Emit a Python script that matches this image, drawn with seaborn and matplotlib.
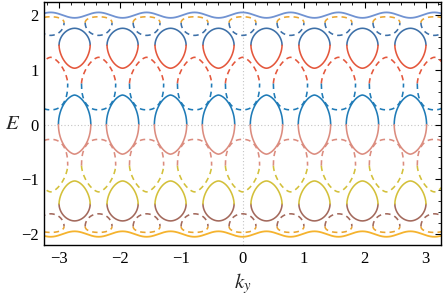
import numpy as np
import pandas as pd
import matplotlib
matplotlib.use("Agg")
import matplotlib.pyplot as plt
import seaborn as sns
from matplotlib.ticker import MultipleLocator

sns.set_theme(style="white")
plt.rcParams['font.family'] = ['Liberation Serif', 'DejaVu Serif']
plt.rcParams['mathtext.fontset'] = 'stix'

# ---- values ----
loop_centers = (2 * np.arange(-4, 4) + 1) * np.pi / 8     # solid loops
oval_centers = np.arange(-4, 5) * np.pi / 4                # dashed ovals
# solid upper loop: (E at widest, E top, E bottom, half width)
up_mid, up_top, up_bot, up_halfw = 1.45, 1.76, 1.03, 0.255
# solid inner loop (touches E = 0)
in_top, in_halfw = 0.54, 0.265
# dashed middle oval
mo_mid, mo_top, mo_bot, mo_halfw = 0.75, 1.23, 0.27, 0.28
# dashed top oval
to_mid, to_top, to_bot, to_halfw = 1.86, 1.97, 1.63, 0.22
# edge waves
wave_mean, wave_amp = 2.0, 0.05

C = {
    "wave_top": "#7193d2", "orange": "#eaa531", "dblue": "#3d70a8",
    "red": "#e4573c", "bblue": "#1f7bb7", "pink": "#db8c7f",
    "yellow": "#d3c03a", "brown": "#a3695c", "wave_bot": "#f5b32e",
}
LW = 1.15
DASH = (0, (3.4, 2.6))

def half(xc, ec, w, h, p, n=300):
    t = np.linspace(-1, 1, n)
    return xc + w * t, ec + h * np.clip(1 - np.abs(t) ** p, 0, None) ** (1 / p)

fig = plt.figure(figsize=(4.43, 3.03), dpi=100)
ax = fig.add_axes([44 / 443, 1 - 245 / 303, 397 / 443, 243 / 303])

ky = np.linspace(-3.4, 3.4, 2400)
wave = wave_mean + wave_amp * np.cos(8 * ky)
sns.lineplot(x=ky, y=wave, ax=ax, color=C["wave_top"], lw=1.3, sort=False)
sns.lineplot(x=ky, y=-wave, ax=ax, color=C["wave_bot"], lw=1.3, sort=False)

for s in (1, -1):
    ctop, cbot = ("dblue", "red") if s > 0 else ("brown", "yellow")
    for c in loop_centers:
        x, y = half(c, up_mid, up_halfw, up_top - up_mid, 1.9)
        ax.plot(x, s * y, color=C[ctop], lw=LW)
        x, y = half(c, up_mid, up_halfw, -(up_mid - up_bot), 1.75)
        ax.plot(x, s * y, color=C[cbot], lw=LW)
    mtop, mbot = ("red", "bblue") if s > 0 else ("yellow", "pink")
    ttop, tbot = ("orange", "dblue") if s > 0 else ("orange", "brown")
    for m in oval_centers:
        x, y = half(m, mo_mid, mo_halfw, mo_top - mo_mid, 1.6)
        ax.plot(x, s * y, color=C[mtop], lw=LW, ls=DASH)
        x, y = half(m, mo_mid, mo_halfw, -(mo_mid - mo_bot), 2.4)
        ax.plot(x, s * y, color=C[mbot], lw=LW, ls=DASH)
        x, y = half(m, to_mid, to_halfw, to_top - to_mid, 2.2)
        ax.plot(x, s * y, color=C[ttop], lw=LW, ls=DASH)
        x, y = half(m, to_mid, to_halfw, -(to_mid - to_bot), 2.0)
        ax.plot(x, s * y, color=C[tbot], lw=LW, ls=DASH)

e = np.linspace(0, 1, 300)
side = (1 - e ** 2.0) ** 0.62
for c in loop_centers:
    xs = np.concatenate([c - in_halfw * side, (c + in_halfw * side)[::-1]])
    es = np.concatenate([in_top * e, (in_top * e)[::-1]])
    ax.plot(xs, es, color=C["bblue"], lw=LW)
    ax.plot(xs, -es, color=C["pink"], lw=LW)

ax.axhline(0, color="#c4c4c4", lw=0.8, ls=(0, (1, 2)), zorder=0)
ax.axvline(0, color="#c4c4c4", lw=0.8, ls=(0, (1, 2)), zorder=0)

ax.set_xlim(-3.25, 3.25)
ax.set_ylim(-2.2, 2.24)
ax.xaxis.set_minor_locator(MultipleLocator(0.2))
ax.yaxis.set_minor_locator(MultipleLocator(0.2))
ax.tick_params(which="both", direction="in", top=True, right=True,
               labelsize=12, colors="black", pad=4)
ax.tick_params(which="major", length=4, width=0.8)
ax.tick_params(which="minor", length=2, width=0.6)
for sp in ax.spines.values():
    sp.set_color("black")
    sp.set_linewidth(1.0)
ax.set_xticks(range(-3, 4))
ax.set_xticklabels(["\u22123", "\u22122", "\u22121", "0", "1", "2", "3"])
ax.set_yticks(range(-2, 3))
ax.set_yticklabels(["\u22122", "\u22121", "0", "1", "2"])
ax.set_xlabel(r"$k_y$", fontsize=15, labelpad=3)
ax.set_ylabel("")
fig.text(13 / 443, 1 - 124 / 303, r"$E$", fontsize=15, ha="center", va="center")
fig.savefig("out.png", dpi=100)
